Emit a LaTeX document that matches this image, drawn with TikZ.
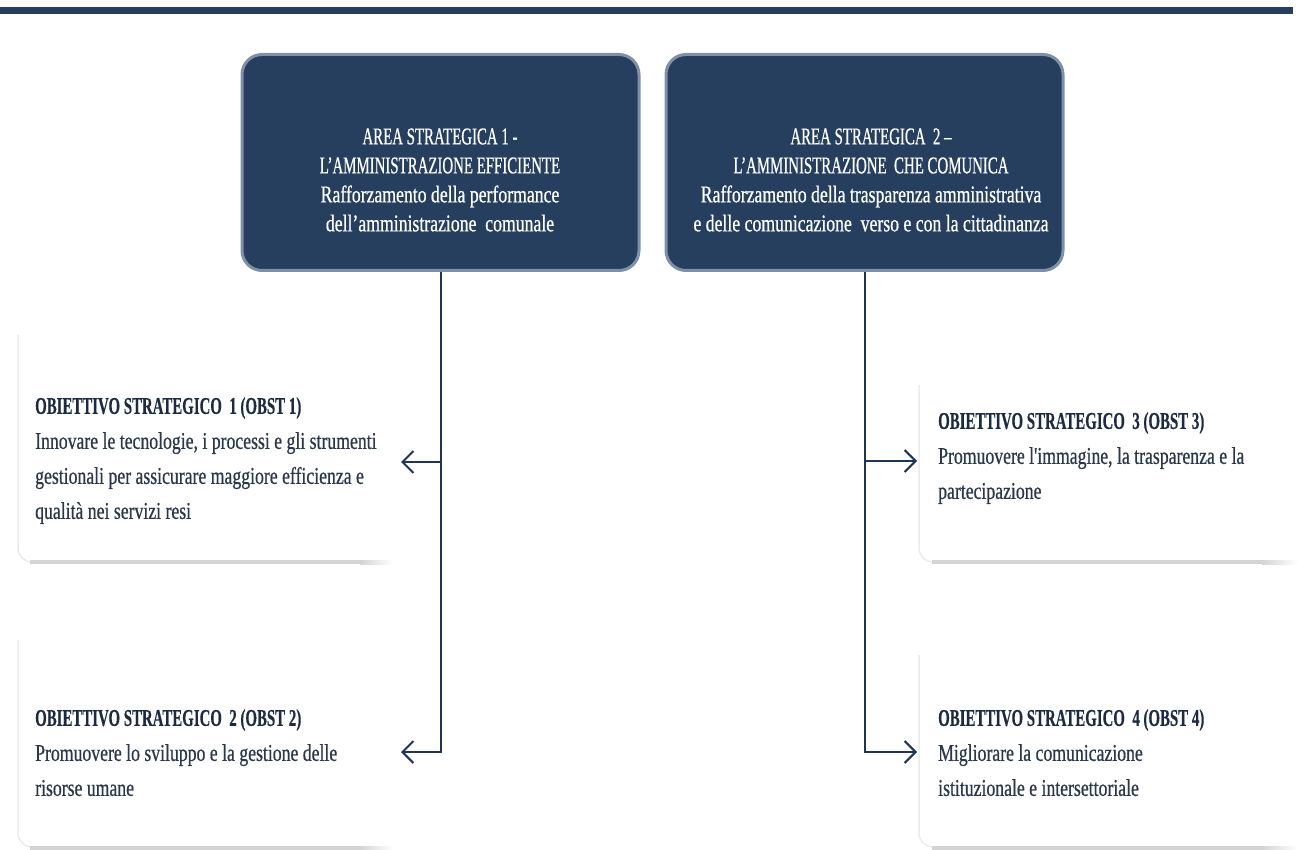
\documentclass[tikz,border=0pt]{standalone}
\usepackage{fontspec}
\newfontfamily\bodyf{Liberation Serif}[FakeStretch=0.738,FakeBold=0.6]
\newfontfamily\capf{Liberation Serif}[FakeStretch=0.62,FakeBold=0.6]
\newfontfamily\capbf{Liberation Serif Bold}[FakeStretch=0.62,FakeBold=0.4]
\usetikzlibrary{arrows.meta}
\definecolor{navy}{HTML}{243F60}
\definecolor{boxfill}{HTML}{263F5F}
\definecolor{boxedge}{HTML}{8090A8}
\definecolor{linec}{HTML}{1F3556}
\definecolor{titlec}{HTML}{1C2B42}
\definecolor{bodyc}{HTML}{2A384B}
\definecolor{shadowc}{HTML}{D4D4D4}
\definecolor{edgec}{HTML}{EBEBEB}
\begin{document}
\begin{tikzpicture}[x=1pt,y=-1pt,
  areabox/.style={rectangle, rounded corners=20pt, fill=boxfill, draw=boxedge, line width=3pt,
    minimum width=397pt, minimum height=216pt, inner sep=0pt},
  areatext/.style={text=white, align=center, inner sep=0pt,
    font={\bodyf\fontsize{24}{29}\selectfont}},
  objtext/.style={text=bodyc, align=left, inner sep=0pt, anchor=north west,
    font={\bodyf\fontsize{24}{35}\selectfont}},
  conn/.style={draw=linec, line width=2pt},
  tip/.style={-{Straight Barb[length=11pt,width=22pt]}},
  shadowedge/.style={draw=edgec, line width=1.5pt, rounded corners=14pt}
]
\useasboundingbox (0,0) rectangle (1298,850);
% top bar
\fill[navy] (0,7) rectangle (1293,14);

% objective box shadows
\draw[shadowedge] (18,335) -- (18,562) -- (60,562);
\fill[shadowc] (30,560) rectangle (360,564);
\shade[left color=shadowc, right color=white] (360,560) rectangle (393,564);
\draw[shadowedge] (18,640) -- (18,847) -- (60,847);
\fill[shadowc] (30,846) rectangle (360,850);
\shade[left color=shadowc, right color=white] (360,846) rectangle (393,850);
\draw[shadowedge] (919,385) -- (919,562) -- (960,562);
\fill[shadowc] (932,560) rectangle (1262,564);
\shade[left color=shadowc, right color=white] (1262,560) rectangle (1298,564);
\draw[shadowedge] (919,655) -- (919,847) -- (960,847);
\fill[shadowc] (932,846) rectangle (1262,850);
\shade[left color=shadowc, right color=white] (1262,846) rectangle (1298,850);

% area boxes
\node[areabox] (a1) at (440.5,162.5) {};
\node[areabox] (a2) at (864.5,162.5) {};
\node[areatext] (a1t) at (440,180) {{\capf AREA STRATEGICA 1 -}\\{\capf L’AMMINISTRAZIONE EFFICIENTE}\\Rafforzamento della performance\\dell’amministrazione\ \ comunale};
\node[areatext] (a2t) at (871,180) {{\capf AREA STRATEGICA\ \ 2 –}\\{\capf L’AMMINISTRAZIONE\ \ CHE COMUNICA}\\Rafforzamento della trasparenza amministrativa\\e delle comunicazione\ \ verso e con la cittadinanza};

% objectives
\node[objtext] (o1) at (35,397) {{\color{titlec}\capbf OBIETTIVO STRATEGICO\ \ 1 (OBST 1)}\\Innovare le tecnologie, i processi e gli strumenti\\gestionali per assicurare maggiore efficienza e\\qualità nei servizi resi};
\node[objtext] (o2) at (35,709) {{\color{titlec}\capbf OBIETTIVO STRATEGICO\ \ 2 (OBST 2)}\\Promuovere lo sviluppo e la gestione delle\\risorse umane};
\node[objtext] (o3) at (938,412) {{\color{titlec}\capbf OBIETTIVO STRATEGICO\ \ 3 (OBST 3)}\\Promuovere l'immagine, la trasparenza e la\\partecipazione};
\node[objtext] (o4) at (938,709) {{\color{titlec}\capbf OBIETTIVO STRATEGICO\ \ 4 (OBST 4)}\\Migliorare la comunicazione\\istituzionale e intersettoriale};

% connectors
\coordinate (t1) at (401,462);
\coordinate (t2) at (401,752);
\coordinate (t3) at (917,461);
\coordinate (t4) at (917,752);
\draw[conn,tip] (a1.south) |- (t2);
\draw[conn,tip] (a1.south |- t1) -- (t1);
\draw[conn,tip] (a2.south) |- (t4);
\draw[conn,tip] (a2.south |- t3) -- (t3);
\end{tikzpicture}
\end{document}
